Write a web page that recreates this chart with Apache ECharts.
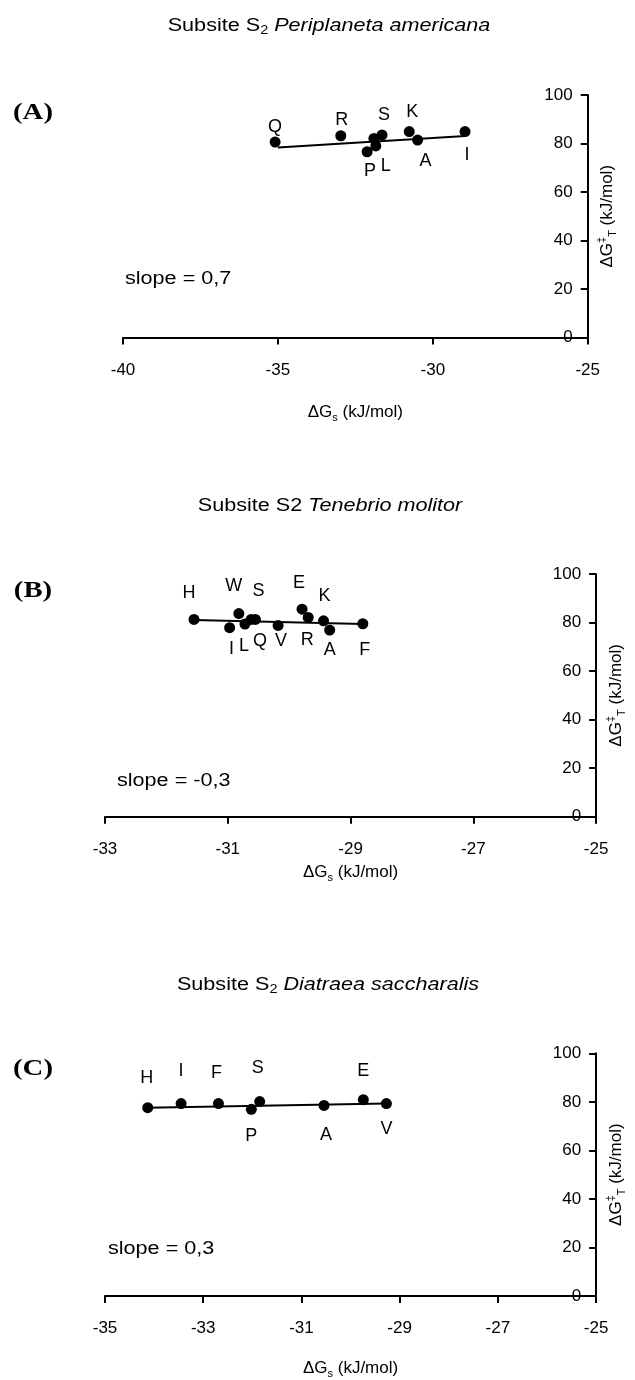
<!DOCTYPE html>
<html><head><meta charset="utf-8">
<script src="https://cdn.jsdelivr.net/npm/echarts@6/dist/echarts.min.js"></script>
<style>html,body{margin:0;padding:0;background:#fff}#c{width:635px;height:1380px}</style>
</head><body><div id="c"></div>
<script>
// ---------- DATA ----------
// Panel A: Periplaneta americana
const aNames = ['Q','R','P','L','','S','K','A','I'];
const aX = [-35.09,-32.97,-32.12,-31.84,-31.90,-31.64,-30.76,-30.49,-28.96];
const aY = [80.6,83.2,76.6,79.0,82.1,83.5,84.9,81.4,84.9];
const aFitX = [-35.0,-28.95];
const aFitY = [78.3,83.1];
const aTicksX = [-40,-35,-30,-25];
const aSlope = 'slope = 0,7';
// Panel B: Tenebrio molitor
const bNames = ['H','I','W','L','Q','S','V','E','R','K','A','F'];
const bX = [-31.55,-30.97,-30.82,-30.72,-30.62,-30.55,-30.18,-29.79,-29.69,-29.44,-29.34,-28.80];
const bY = [81.3,77.9,83.7,79.4,81.3,81.3,78.8,85.5,82.1,80.7,76.9,79.5];
const bFitX = [-31.55,-28.80];
const bFitY = [81.0,79.4];
const bTicksX = [-33,-31,-29,-27,-25];
const bSlope = 'slope = -0,3';
// Panel C: Diatraea saccharalis
const cNames = ['H','I','F','P','S','A','E','V'];
const cX = [-34.13,-33.45,-32.69,-32.02,-31.85,-30.54,-29.74,-29.27];
const cY = [77.6,79.3,79.3,76.9,80.1,78.5,80.9,79.3];
const cFitX = [-34.13,-29.27];
const cFitY = [77.6,79.3];
const cTicksX = [-35,-33,-31,-29,-27,-25];
const cSlope = 'slope = 0,3';
// shared
const yTicks = [0,20,40,60,80,100];
const panelLetters = ['(A)','(B)','(C)'];
const titleTexts = [
  '{n|Subsite S}{sub|2}{n| }{it|Periplaneta americana}',
  '{n|Subsite S2 }{it|Tenebrio molitor}',
  '{n|Subsite S}{sub|2}{n| }{it|Diatraea saccharalis}'
];
const xName = '{n|\u0394G}{sub|s}{n| (kJ/mol)}';
const yName = '{n|\u0394G}{sup|\u2021}{sub|T}{n| (kJ/mol)}';

// ---------- LAYOUT (positions/styles) ----------
const FONT = 'Liberation Sans';
const grids = [
  {left:123, top:95, width:464.7, height:242.5},
  {left:105, top:574, width:500, height:242.7},
  {left:105, top:1053.3, width:501.7, height:245}
];
const xNameGaps = [64, 45, 61];
const titlePos = [[329, 26], [330, 506], [328, 985]];
const letterPos = [[33, 113], [33, 591], [33, 1069]];
const slopePos = [[125, 279], [117, 781], [108, 1249]];
const labelOffsets = [
  {Q:[0,-15],R:[1,-16],S:[2,-20],K:[3,-20],P:[3,19],L:[10,20],A:[8,21],I:[2,23]},
  {H:[-5,-26],W:[-5,-28],S:[3,-28],E:[-3,-26],K:[1,-25],I:[2,21],L:[-1,22],Q:[9,22],V:[3,16],R:[-1,23],A:[0,20],F:[2,26]},
  {H:[-1,-30],I:[0,-33],F:[-2,-31],S:[-2,-34],E:[0,-29],P:[0,27],A:[2,30],V:[0,25]}
];
const STRETCH = 1.2;

const panels = [
  {names:aNames, x:aX, y:aY, fx:aFitX, fy:aFitY, ticks:aTicksX, slope:aSlope},
  {names:bNames, x:bX, y:bY, fx:bFitX, fy:bFitY, ticks:bTicksX, slope:bSlope},
  {names:cNames, x:cX, y:cY, fx:cFitX, fy:cFitY, ticks:cTicksX, slope:cSlope}
];

function rich(size) {
  return {
    n:{fontFamily:FONT, fontSize:size, color:'#000', lineHeight:22},
    sub:{fontFamily:FONT, fontSize:Math.round(size*0.65), color:'#000', verticalAlign:'bottom', lineHeight:22, padding:[6,0,0,0]},
    sup:{fontFamily:FONT, fontSize:Math.round(size*0.65), color:'#000', verticalAlign:'top', lineHeight:22, padding:[0,0,6,0]},
    it:{fontFamily:FONT, fontSize:size, color:'#000', fontStyle:'italic', lineHeight:22}
  };
}

const option = {
  animation:false,
  backgroundColor:'#fff',
  grid: grids.map(g => Object.assign({containLabel:false}, g)),
  xAxis: panels.map((p,i) => ({
    gridIndex:i, type:'value', min:p.ticks[0], max:p.ticks[p.ticks.length-1], position:'bottom',
    axisLine:{onZero:false, lineStyle:{color:'#000', width:2}},
    axisTick:{show:true, length:7, lineStyle:{color:'#000', width:2}, customValues:p.ticks},
    axisLabel:{customValues:p.ticks, color:'#000', fontSize:17, fontFamily:FONT, margin:24},
    splitLine:{show:false},
    name:xName, nameLocation:'middle', nameGap:xNameGaps[i],
    nameTextStyle:{rich:rich(17)}
  })),
  yAxis: panels.map((p,i) => ({
    gridIndex:i, type:'value', min:0, max:100, interval:20, position:'right',
    axisLine:{onZero:false, lineStyle:{color:'#000', width:2}},
    axisTick:{show:true, inside:true, length:7, lineStyle:{color:'#000', width:2}},
    axisLabel:{inside:true, color:'#000', fontSize:17, fontFamily:FONT, margin:15,
      customValues:yTicks},
    splitLine:{show:false},
    name:yName, nameLocation:'middle', nameRotate:90, nameGap:8,
    nameTextStyle:{rich:rich(17)}
  })),
  series: [],
  graphic: []
};

panels.forEach((p,i) => {
  option.series.push({
    type:'line', xAxisIndex:i, yAxisIndex:i, showSymbol:false, silent:true,
    lineStyle:{color:'#000', width:2}, z:2,
    data:p.fx.map((v,k)=>[v,p.fy[k]])
  });
  option.series.push({
    type:'scatter', xAxisIndex:i, yAxisIndex:i, symbol:'circle', symbolSize:11, z:3,
    itemStyle:{color:'#000', opacity:1},
    data:p.x.map((v,k)=>{
      const nm = p.names[k];
      const off = labelOffsets[i][nm] || [0,0];
      return {name:nm, value:[v,p.y[k]],
        label:{show:nm!=='', position:'inside', offset:off, formatter:nm,
          color:'#000', opacity:1, fontSize:18, fontFamily:FONT}};
    })
  });
  option.graphic.push({type:'text', x:titlePos[i][0], y:titlePos[i][1], scaleX:STRETCH,
    style:{text:titleTexts[i], rich:rich(18), align:'center', verticalAlign:'middle'}});
  option.graphic.push({type:'text', x:letterPos[i][0], y:letterPos[i][1], scaleX:1.25,
    style:{text:panelLetters[i], fontFamily:'Liberation Serif', fontWeight:'bold', fontSize:23, fill:'#000', align:'center', verticalAlign:'middle'}});
  option.graphic.push({type:'text', x:slopePos[i][0], y:slopePos[i][1], scaleX:STRETCH,
    style:{text:p.slope, fontFamily:FONT, fontSize:18, fill:'#000', align:'left', verticalAlign:'middle'}});
});

const chart = echarts.init(document.getElementById('c'), null, {renderer:'canvas'});
chart.setOption(option);
</script>
</body></html>
